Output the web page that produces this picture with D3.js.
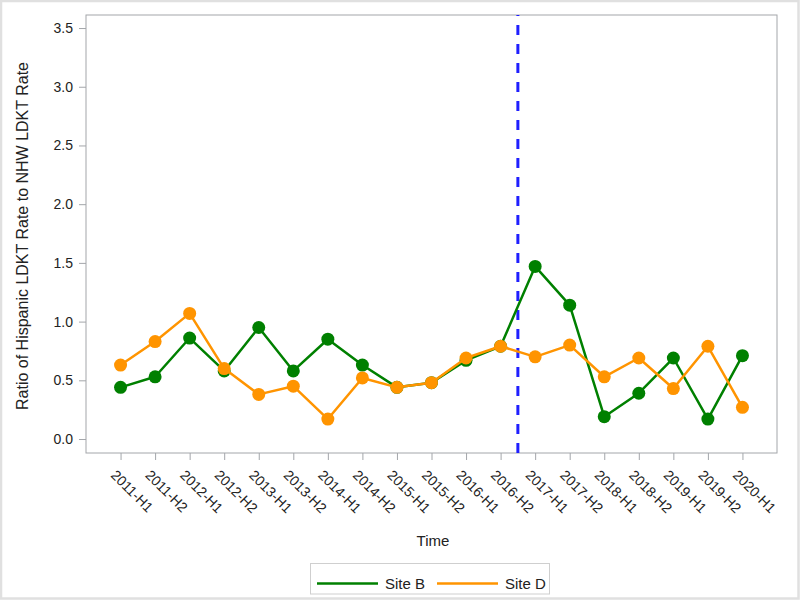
<!DOCTYPE html>
<html>
<head>
<meta charset="utf-8">
<script src="https://cdn.jsdelivr.net/npm/d3@7"></script>
<style>
  html, body { margin: 0; padding: 0; background: #ffffff; }
  svg { display: block; font-family: "Liberation Sans", Arial, sans-serif; }
</style>
</head>
<body>
<svg id="chart" width="800" height="600"></svg>
<script>
const categories = ["2011-H1","2011-H2","2012-H1","2012-H2","2013-H1","2013-H2","2014-H1","2014-H2",
  "2015-H1","2015-H2","2016-H1","2016-H2","2017-H1","2017-H2","2018-H1","2018-H2","2019-H1","2019-H2","2020-H1"];
const siteB = [0.44, 0.53, 0.86, 0.58, 0.95, 0.58, 0.85, 0.63, 0.44, 0.48, 0.67, 0.79, 1.47, 1.14, 0.19, 0.39, 0.69, 0.17, 0.71];
const siteD = [0.63, 0.83, 1.07, 0.60, 0.38, 0.45, 0.17, 0.52, 0.44, 0.48, 0.69, 0.79, 0.70, 0.80, 0.53, 0.69, 0.43, 0.79, 0.27];
const seriesNames = ["Site B", "Site D"];
const seriesColors = ["#008000", "#ff9400"];
const yTicks = [0.0, 0.5, 1.0, 1.5, 2.0, 2.5, 3.0, 3.5];
const yDomain = [-0.119, 3.611];
const refBetween = ["2016-H2", "2017-H1"];
const xTitle = "Time";
const yTitle = "Ratio of Hispanic LDKT Rate to NHW LDKT Rate";

const svg = d3.select("#chart");
const L = 86, R = 777, T = 15, B = 453;
const grey = "#a3a6aa";

// outer border
svg.append("rect").attr("x", 1).attr("y", 1).attr("width", 797.5).attr("height", 597.5)
  .attr("fill", "#fff").attr("stroke", "#e0e0e0").attr("stroke-width", 2.5);

const x = d3.scalePoint().domain(categories).range([L, R]).padding(1);
const y = d3.scaleLinear().domain(yDomain).range([B, T]);

// y axis
const gy = svg.append("g").attr("transform", `translate(${L},0)`)
  .call(d3.axisLeft(y).tickValues(yTicks).tickFormat(d3.format(".1f")).tickSize(7).tickPadding(6));
gy.select(".domain").remove();
gy.selectAll(".tick line").attr("stroke", grey);
gy.selectAll(".tick text").attr("fill", "#222").style("font-size", "14px").style("font-family", "Liberation Sans, Arial, sans-serif");

// x axis
const gx = svg.append("g").attr("transform", `translate(0,${B})`)
  .call(d3.axisBottom(x).tickSize(7));
gx.select(".domain").remove();
gx.selectAll(".tick line").attr("stroke", grey);
gx.selectAll(".tick text")
  .attr("fill", "#222").style("font-size", "14px").style("font-family", "Liberation Sans, Arial, sans-serif")
  .attr("x", 0).attr("y", 0).attr("dy", 0)
  .attr("text-anchor", "start")
  .attr("transform", "translate(-11,23) rotate(45)");

// frame
svg.append("rect").attr("x", L).attr("y", T).attr("width", R - L).attr("height", B - T)
  .attr("fill", "none").attr("stroke", grey).attr("stroke-width", 1);

// reference line
const refX = (x(refBetween[0]) + x(refBetween[1])) / 2;
svg.append("line").attr("x1", refX).attr("x2", refX).attr("y1", B).attr("y2", T)
  .attr("stroke", "#1f1fff").attr("stroke-width", 3).attr("stroke-dasharray", "10,9");

// series
const allSeries = [siteB, siteD];
const line = d3.line().x((d, i) => x(categories[i])).y(d => y(d));
allSeries.forEach((vals, si) => {
  const g = svg.append("g");
  g.append("path").datum(vals).attr("d", line).attr("fill", "none")
    .attr("stroke", seriesColors[si]).attr("stroke-width", 2.5).attr("stroke-linejoin", "round");
  g.selectAll("circle").data(vals).enter().append("circle")
    .attr("cx", (d, i) => x(categories[i])).attr("cy", d => y(d)).attr("r", 6.5)
    .attr("fill", seriesColors[si]);
});

// axis titles
svg.append("text").attr("x", (L + R) / 2 + 1.5).attr("y", 546).attr("text-anchor", "middle")
  .style("font-size", "15px").attr("fill", "#222").text(xTitle);
svg.append("text").attr("transform", `translate(28,${(T + B) / 2 + 2}) rotate(-90)`)
  .attr("text-anchor", "middle").style("font-size", "16px").attr("fill", "#222").text(yTitle);

// legend
const lg = svg.append("g");
lg.append("rect").attr("x", 310.5).attr("y", 563.5).attr("width", 239).attr("height", 30.5)
  .attr("fill", "#fff").attr("stroke", "#cfcfcf").attr("stroke-width", 1);
const legendX = [317, 437];
seriesNames.forEach((name, i) => {
  lg.append("line").attr("x1", legendX[i]).attr("x2", legendX[i] + 61).attr("y1", 583.5).attr("y2", 583.5)
    .attr("stroke", seriesColors[i]).attr("stroke-width", 2.5);
  lg.append("text").attr("x", legendX[i] + 68).attr("y", 588.5).style("font-size", "15px")
    .attr("fill", "#222").text(name);
});
</script>
</body>
</html>
